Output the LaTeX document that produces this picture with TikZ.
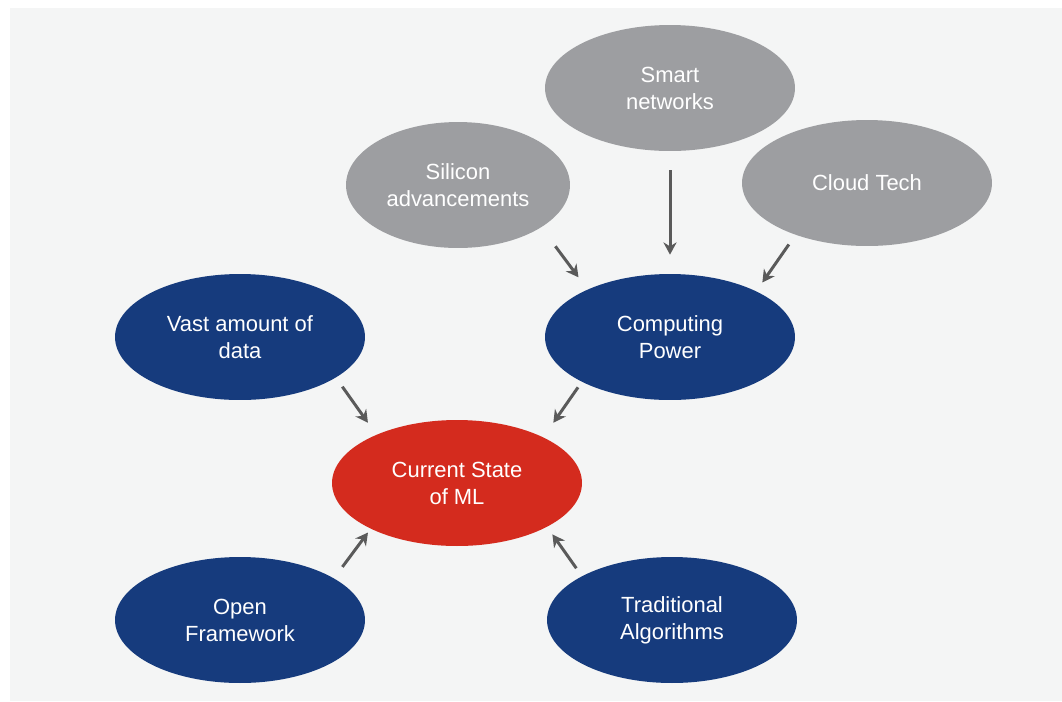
\documentclass[tikz,border=0pt]{standalone}
\usepackage{fontspec}
\setmainfont{Liberation Sans}
\usepackage{tikz}
\usetikzlibrary{shapes.geometric,arrows.meta}
\definecolor{panelgray}{HTML}{F4F5F5}
\definecolor{bubgray}{HTML}{9D9EA1}
\definecolor{bubblue}{HTML}{163B7D}
\definecolor{bubred}{HTML}{D42B1E}
\definecolor{arrowgray}{HTML}{5A5A5A}
\tikzstyle{bubble} = [ellipse, minimum width=5cm, minimum height=2.52cm,
    inner sep=0, align=center, text=white, font=\fontsize{12.5}{15.3}\selectfont]
\tikzstyle{graybub} = [bubble, fill=bubgray]
\tikzstyle{bluebub} = [bubble, fill=bubblue]
\tikzstyle{redbub} = [bubble, fill=bubred]
\tikzstyle{feed} = [draw=arrowgray, line width=1.7pt,
    -{Stealth[length=7pt,width=7.5pt]}]

\begin{document}
\begin{tikzpicture}[x=0.02cm, y=-0.02cm]
    \useasboundingbox (0,0) rectangle (1062,701);
    \fill[panelgray] (10,8) rectangle (1062,701);
    % top row
    \node[graybub] (smart) at (670,88) {Smart\\networks};
    \node[graybub, minimum width=4.48cm] (silicon) at (458,185) {Silicon\\advancements};
    \node[graybub] (cloud) at (867,183) {Cloud Tech};
    % middle
    \node[bluebub] (vast) at (240,337) {Vast amount of\\data};
    \node[bluebub] (computing) at (670,337) {Computing\\Power};
    \node[redbub] (current) at (457,483) {Current State\\of ML};
    % bottom
    \node[bluebub] (open) at (240,620) {Open\\Framework};
    \node[bluebub] (traditional) at (672,620) {Traditional\\Algorithms};

    \draw[feed, shorten <=0.47cm, shorten >=0.3cm] (silicon.-27) -- (computing.150);
    \draw[feed, shorten <=0.38cm, shorten >=0.38cm] (smart.south) -- (computing.north);
    \draw[feed, shorten <=0.23cm, shorten >=0.21cm] (cloud.-144) -- (computing.28);
    \draw[feed, shorten <=0.22cm, shorten >=0.29cm] (vast.-23) -- (current.149);
    \draw[feed, shorten <=0.13cm, shorten >=0.35cm] (computing.-153) -- (current.28);
    \draw[feed, shorten <=0.28cm, shorten >=0.09cm] (open.24) -- (current.-152);
    \draw[feed, shorten <=0.19cm, shorten >=0.18cm] (traditional.154) -- (current.-26);
\end{tikzpicture}
\end{document}
